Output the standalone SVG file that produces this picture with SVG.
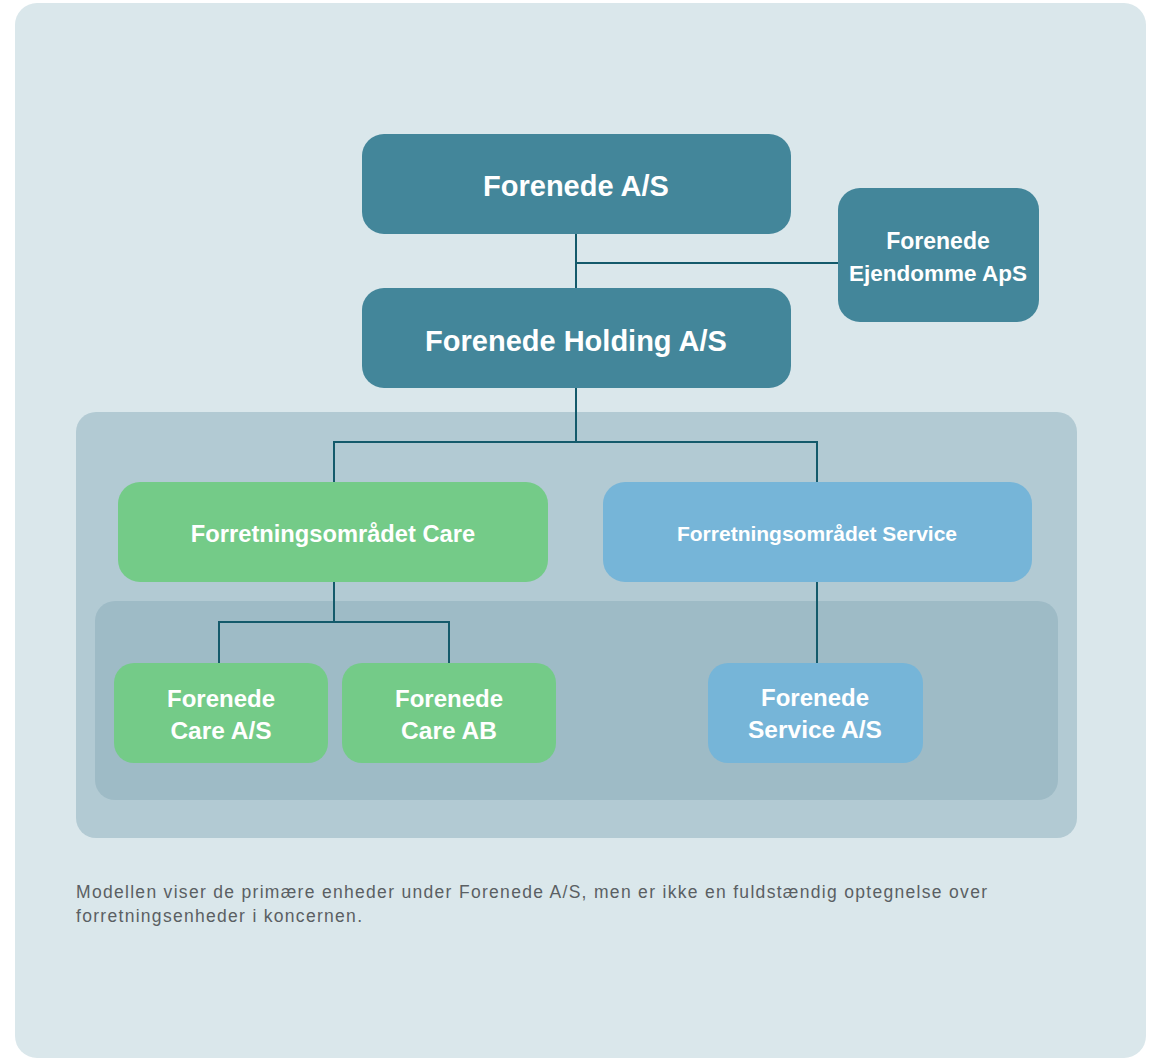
<svg xmlns="http://www.w3.org/2000/svg" width="1153" height="1059" viewBox="0 0 1153 1059">
<style>
.bg{fill:#dae7eb}
.panel1{fill:#b2cad3}
.panel2{fill:#9ebbc6}
.dark{fill:#43869a}
.green{fill:#74cb88}
.blue{fill:#76b5d8}
.lbl{font-family:"Liberation Sans",Arial,sans-serif;font-weight:bold;fill:#ffffff;text-anchor:middle}
.note{font-family:"Liberation Sans",Arial,sans-serif;font-size:17.5px;fill:#5a5f63}
.conn{fill:none;stroke:#145a6b;stroke-width:2}
</style>
<rect class="bg" x="15" y="3" width="1131" height="1055" rx="22"/>
<rect class="panel1" x="76" y="412" width="1001" height="426" rx="20"/>
<rect class="panel2" x="95" y="601" width="963" height="199" rx="20"/>
<g id="connectors">
<path class="conn" d="M576 234V288M576 263H838"/>
<path class="conn" d="M576 388V442M334 482V442H817V482"/>
<path class="conn" d="M334 582V622M219 663V622H449V663"/>
<path class="conn" d="M817 582V663"/>
</g>
<g id="n-forenede">
<rect class="dark" x="362" y="134" width="429" height="100" rx="22"/>
<text class="lbl" x="576" y="196" font-size="29">Forenede A/S</text>
</g>
<g id="n-ejendomme">
<rect class="dark" x="838" y="188" width="201" height="134" rx="22"/>
<text class="lbl" x="938" y="249" font-size="23">Forenede</text>
<text class="lbl" x="938" y="281" font-size="22.5">Ejendomme ApS</text>
</g>
<g id="n-holding">
<rect class="dark" x="362" y="288" width="429" height="100" rx="22"/>
<text class="lbl" x="576" y="351" font-size="29">Forenede Holding A/S</text>
</g>
<g id="n-care">
<rect class="green" x="118" y="482" width="430" height="100" rx="22"/>
<text class="lbl" x="333" y="542" font-size="23.7">Forretningsområdet Care</text>
</g>
<g id="n-service">
<rect class="blue" x="603" y="482" width="429" height="100" rx="22"/>
<text class="lbl" x="817" y="541" font-size="21">Forretningsområdet Service</text>
</g>
<g id="n-care-as">
<rect class="green" x="114" y="663" width="214" height="100" rx="20"/>
<text class="lbl" x="221" y="707" font-size="24">Forenede</text>
<text class="lbl" x="221" y="739" font-size="24.5">Care A/S</text>
</g>
<g id="n-care-ab">
<rect class="green" x="342" y="663" width="214" height="100" rx="20"/>
<text class="lbl" x="449" y="707" font-size="24">Forenede</text>
<text class="lbl" x="449" y="739" font-size="24.5">Care AB</text>
</g>
<g id="n-service-as">
<rect class="blue" x="708" y="663" width="215" height="100" rx="20"/>
<text class="lbl" x="815" y="706" font-size="24">Forenede</text>
<text class="lbl" x="815" y="738" font-size="24.5">Service A/S</text>
</g>
<text class="note" x="76" y="898" textLength="911" lengthAdjust="spacing">Modellen viser de primære enheder under Forenede A/S, men er ikke en fuldstændig optegnelse over</text>
<text class="note" x="76" y="922" textLength="286" lengthAdjust="spacing">forretningsenheder i koncernen.</text>
</svg>
